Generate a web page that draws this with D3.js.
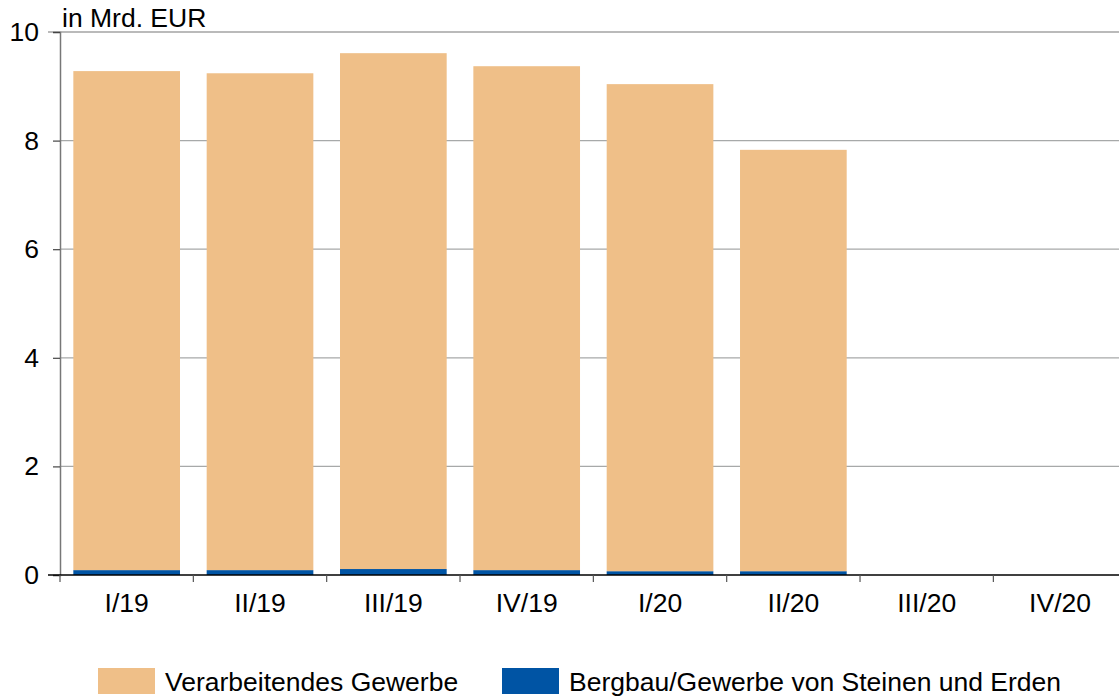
<!DOCTYPE html>
<html><head><meta charset="utf-8">
<script src="https://cdn.jsdelivr.net/npm/d3@7"></script>
<style>body{margin:0;background:#fff;} svg{display:block;font-family:Arial,"Liberation Sans",sans-serif;}</style>
</head><body>
<svg id="c" width="1119" height="699"></svg>
<script>
const categories = ["I/19","II/19","III/19","IV/19","I/20","II/20","III/20","IV/20"];
const bergbau = [0.09, 0.09, 0.11, 0.09, 0.07, 0.07, null, null];
const verarbeitend = [9.19, 9.15, 9.50, 9.28, 8.97, 7.76, null, null];
const yTicks = [0, 2, 4, 6, 8, 10];
const seriesNames = ["Verarbeitendes Gewerbe", "Bergbau/Gewerbe von Steinen und Erden"];
const colors = {"Verarbeitendes Gewerbe":"#efbf88", "Bergbau/Gewerbe von Steinen und Erden":"#0054a4"};
const FS = 26.5;
const FF = "Arial, 'Liberation Sans', sans-serif";

const svg = d3.select("#c");
const x = d3.scaleBand().domain(categories).range([60, 1126.7]).paddingInner(0.2).paddingOuter(0.1);
const xb = d3.scaleBand().domain(categories).range([60, 1126.7]).padding(0);
const y = d3.scaleLinear().domain([0, 10]).range([575, 32]);

// gridlines
svg.append("g").selectAll("line").data(yTicks.filter(d => d > 0)).join("line")
  .attr("x1", d => d === 10 ? 48 : 60).attr("x2", 1119).attr("y1", d => y(d)).attr("y2", d => y(d))
  .attr("stroke", d => d === 10 ? "#777" : "#a7a9a9").attr("stroke-width", 1.2);

// bars
const rows = categories.map((c, i) => ({cat: c, b: bergbau[i], v: verarbeitend[i]})).filter(r => r.b != null);
const g = svg.append("g");
g.selectAll("rect.b").data(rows).join("rect")
  .attr("x", d => x(d.cat)).attr("width", x.bandwidth())
  .attr("y", d => y(d.b)).attr("height", d => y(0) - y(d.b))
  .attr("fill", colors[seriesNames[1]]);
g.selectAll("rect.v").data(rows).join("rect")
  .attr("x", d => x(d.cat)).attr("width", x.bandwidth())
  .attr("y", d => y(d.b + d.v)).attr("height", d => y(d.b) - y(d.b + d.v))
  .attr("fill", colors[seriesNames[0]]);

// y axis
const yAxis = svg.append("g").attr("transform", "translate(60,0)")
  .call(d3.axisLeft(y).tickValues(yTicks).tickSize(7).tickPadding(14).tickFormat(d3.format("d")));
yAxis.select(".domain").attr("stroke", "#777").attr("stroke-width", 1.5);
yAxis.selectAll(".tick line").attr("stroke", "#444").attr("stroke-width", 1.2);
yAxis.selectAll("text").attr("font-size", FS).attr("fill", "#000").attr("font-family", FF);

// x axis
const xAxis = svg.append("g").attr("transform", "translate(0,575)")
  .call(d3.axisBottom(xb).tickSize(0).tickPadding(18));
xAxis.select(".domain").remove();
xAxis.selectAll("text").attr("font-size", FS).attr("fill", "#000").attr("font-family", FF);
svg.append("line").attr("x1", 48).attr("x2", 1119).attr("y1", 575).attr("y2", 575).attr("stroke", "#000").attr("stroke-width", 1.5);
svg.append("g").selectAll("line").data(categories).join("line")
  .attr("x1", d => xb(d)).attr("x2", d => xb(d)).attr("y1", 575).attr("y2", 582)
  .attr("stroke", "#555").attr("stroke-width", 1.2);

// unit label
svg.append("text").attr("x", 62).attr("y", 27).attr("font-size", FS).attr("font-family", FF).text("in Mrd. EUR");

// legend
const leg = [{n: seriesNames[0], x: 98}, {n: seriesNames[1], x: 502}];
const lg = svg.append("g");
lg.selectAll("rect").data(leg).join("rect")
  .attr("x", d => d.x).attr("y", 668).attr("width", 57).attr("height", 26)
  .attr("fill", d => colors[d.n]);
lg.selectAll("text").data(leg).join("text")
  .attr("x", d => d.x + 67).attr("y", 691).attr("font-size", FS).attr("font-family", FF).text(d => d.n);
</script>
</body></html>
